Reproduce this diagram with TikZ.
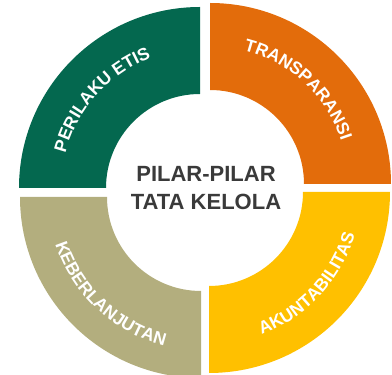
\documentclass[tikz,border=0pt]{standalone}
\usepackage{fontspec}
\setmainfont{Liberation Sans}
\usepackage{tikz}
\usetikzlibrary{positioning, decorations.text}
\definecolor{PillarGreen}{RGB}{4,104,79}
\definecolor{PillarOrange}{RGB}{227,108,11}
\definecolor{PillarYellow}{RGB}{255,192,0}
\definecolor{PillarOlive}{RGB}{179,174,126}
\definecolor{TitleGray}{RGB}{58,58,58}
\tikzset{
  pillarlabel/.style={decorate, decoration={text along path, text align=center,
    text={|\bfseries\fontsize{17.5}{19}\selectfont\color{white}|#1}}}
}

\begin{document}
\begin{tikzpicture}[x=1pt, y=1pt]
  \useasboundingbox (0,0) rectangle (392,375);
  % corners of the four quarters
  \coordinate (cG) at (200,187);
  \coordinate (cO) at (210,191);
  \coordinate (cY) at (209,183);
  \coordinate (cK) at (201,178);

  % Perilaku etis
  \fill[PillarGreen] (cG) ++(90:94pt) -- ++(90:87pt) arc[start angle=90, end angle=180, radius=181pt]
    -- ++(0:87pt) arc[start angle=180, end angle=90, radius=94pt] -- cycle;
  \path[pillarlabel={PERILAKU ETIS}] (cG) ++(178:139pt) arc[start angle=178, end angle=98, radius=139pt];

  % Transparansi
  \fill[PillarOrange] (cO) ++(90:94pt) -- ++(90:87pt) arc[start angle=90, end angle=0, radius=181pt]
    -- ++(180:87pt) arc[start angle=0, end angle=90, radius=94pt] -- cycle;
  \path[pillarlabel={TRANSPARANSI}] (cO) ++(87:138pt) arc[start angle=87, end angle=7, radius=138pt];

  % Akuntabilitas
  \fill[PillarYellow] (cY) ++(0:94pt) -- ++(0:87pt) arc[start angle=0, end angle=-90, radius=181pt]
    -- ++(90:87pt) arc[start angle=-90, end angle=0, radius=94pt] -- cycle;
  \path[pillarlabel={AKUNTABILITAS}] (cY) ++(277:152pt) arc[start angle=277, end angle=357, radius=152pt];

  % Keberlanjutan
  \fill[PillarOlive] (cK) ++(180:94pt) -- ++(180:87pt) arc[start angle=180, end angle=270, radius=181pt]
    -- ++(90:87pt) arc[start angle=270, end angle=180, radius=94pt] -- cycle;
  \path[pillarlabel={KEBERLANJUTAN}] (cK) ++(187:153pt) arc[start angle=187, end angle=267, radius=153pt];

  % title in the middle
  \node[align=center, text=TitleGray, font=\bfseries\fontsize{22}{28}\selectfont] (title) at (206,187) {PILAR-PILAR\\TATA KELOLA};
\end{tikzpicture}
\end{document}
